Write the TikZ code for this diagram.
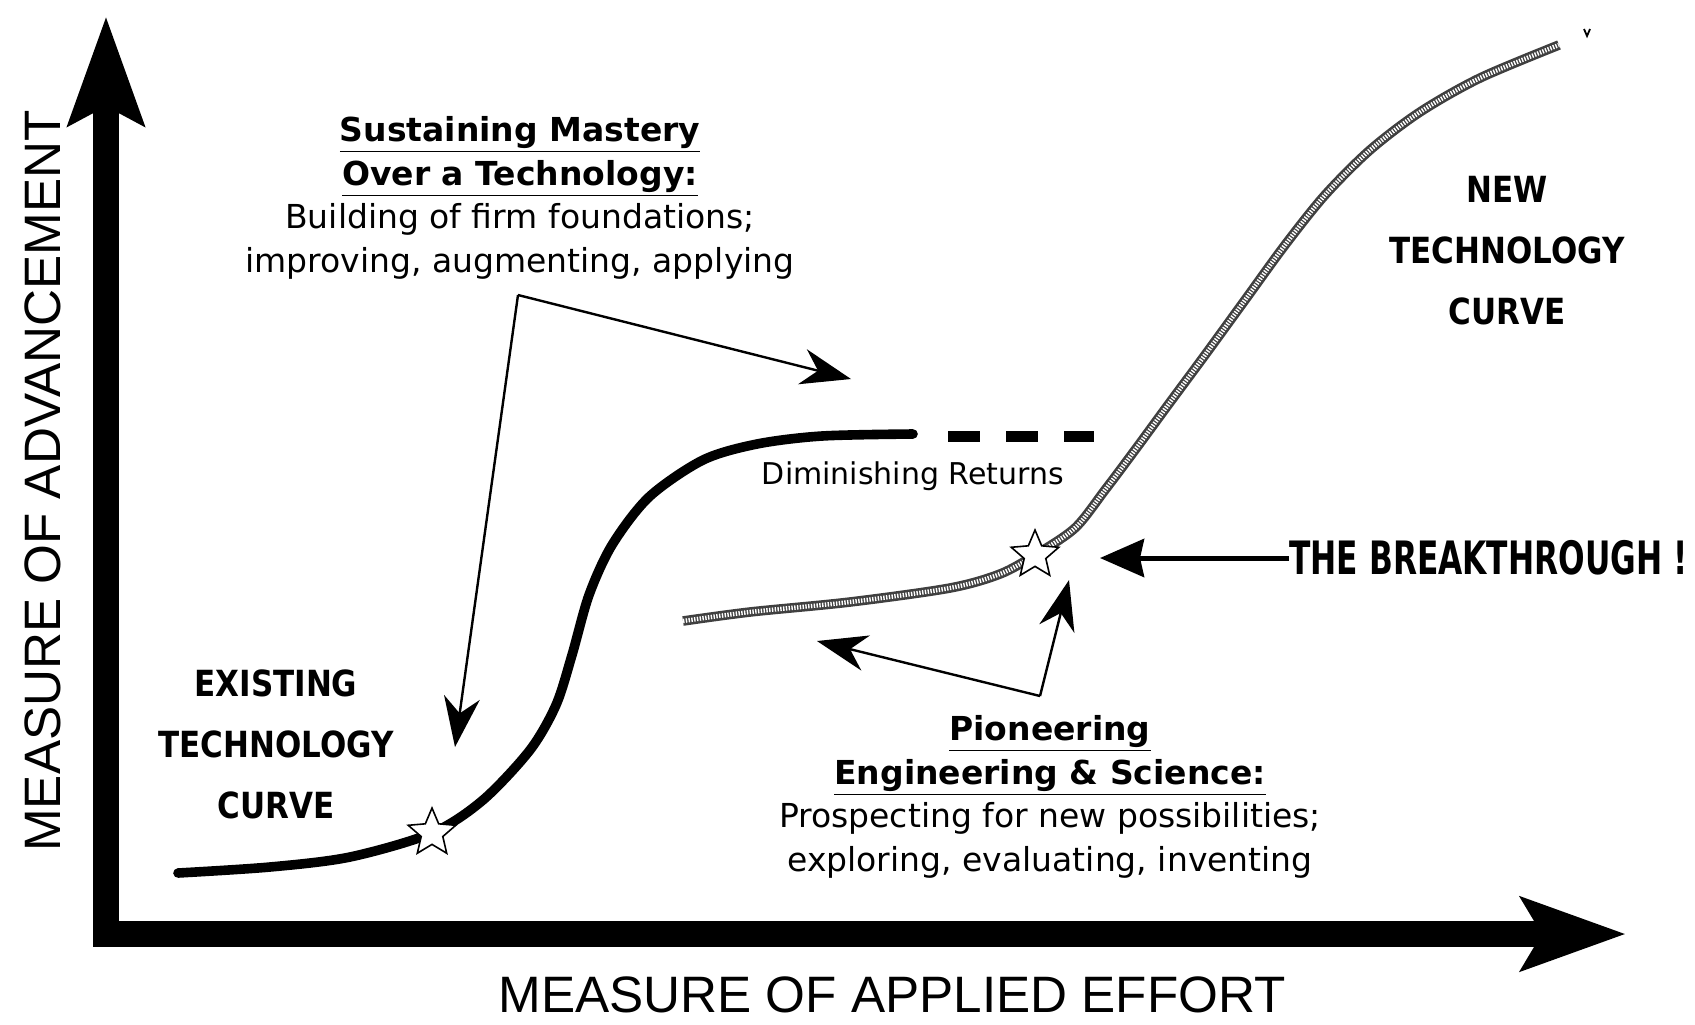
\documentclass[tikz,border=0pt]{standalone}
\usepackage{fontspec}
\setmainfont{DejaVu Sans}
\newfontfamily\axisfont{Liberation Sans}
\newfontfamily\capsfont{DejaVu Sans}[FakeStretch=0.86]
\newfontfamily\shoutfont{DejaVu Sans}[FakeStretch=0.68]
\usetikzlibrary{arrows.meta}
\usetikzlibrary{shapes.geometric}

\begin{document}
\begin{tikzpicture}[x=0.5pt,y=0.5pt,yscale=-1,xscale=1,
  axis/.style={line width=13pt,{Stealth[length=54pt,width=37pt,inset=9pt]}-{Stealth[length=52pt,width=36pt,inset=10pt]}},
  oldcurve/.style={line width=4.8pt,line cap=round},
  newcurve/.style={line width=4.8pt,draw=black!75,postaction={draw=white,line width=2.2pt,dash pattern=on 0.7pt off 0.7pt}},
  dashline/.style={line width=5.5pt,dash pattern=on 16pt off 13pt},
  pointer/.style={line width=1.2pt,-{Stealth[length=25pt,width=18pt,inset=8pt]}},
  bigpointer/.style={line width=2.5pt,-{Stealth[length=22pt,width=19pt,inset=2pt]}},
  starmark/.style={star,star points=5,star point ratio=2.2,minimum size=25pt,inner sep=0pt,draw,fill=white,line width=0.8pt},
  note/.style={align=center,inner sep=0pt,font=\fontsize{16.5}{21.75}\selectfont},
  caps/.style={align=center,inner sep=0pt,font=\capsfont\bfseries\fontsize{18}{30.5}\selectfont},
  axislabel/.style={inner sep=0pt,font=\axisfont\fontsize{25.6}{30}\selectfont}]
\path[use as bounding box] (0,0) rectangle (1695,1024);

%Axes
\draw[axis] (106,16) -- (106,934) -- (1626,934);

% Text Node
\node[axislabel,rotate=90] (ylab) at (43,481) {MEASURE OF ADVANCEMENT};
% Text Node
\node[axislabel] (xlab) at (892,995) {MEASURE OF APPLIED EFFORT};

%Existing technology curve
\draw[oldcurve] plot[smooth] coordinates {(178,873) (270,867) (350,857) (432,833) (483,800) (530,750) (556,705) (572,655) (589,595) (612,545) (649,497) (703,460) (757,444) (822,436) (913,434)};
\draw[dashline] (948,436) -- (1094,436);

%New technology curve
\draw[newcurve] plot[smooth] coordinates {(683,621) (750,612) (850,602) (950,588) (1000,574) (1035,555) (1075,528) (1105,490) (1135,450) (1168,405) (1205,355) (1245,300) (1285,245) (1325,195) (1370,150) (1420,112) (1480,78) (1559,45)};
\draw[line width=0.9pt] (1584,29) -- (1587,36) -- (1590,29);

%Stars
\node[starmark] (oldstar) at (432,833) {};
\node[starmark] (newstar) at (1035,555) {};

% Text Node
\node[caps] (existing) at (276,744) {EXISTING\\TECHNOLOGY\\CURVE};
% Text Node
\node[caps] (newtech) at (1507,251) {NEW\\TECHNOLOGY\\CURVE};
% Text Node
\node[note,font=\fontsize{15}{18}\selectfont] (dimret) at (913,476) {Diminishing Returns};

% Text Node
\node[note] (sustain) at (520,198) {\underline{\bfseries Sustaining Mastery}\\\underline{\bfseries Over a Technology:}\\Building of firm foundations;\\improving, augmenting, applying};
\coordinate (sv) at (518,295);
\coordinate (sdown) at (455,747);
\coordinate (sright) at (851,379);
\draw[pointer] (sv) -- (sdown);
\draw[pointer] (sv) -- (sright);

% Text Node
\node[note] (pioneer) at (1050,797) {\underline{\bfseries Pioneering}\\\underline{\bfseries Engineering \& Science:}\\Prospecting for new possibilities;\\exploring, evaluating, inventing};
\coordinate (pv) at (1040,696);
\coordinate (pup) at (1069,580);
\coordinate (pleft) at (817,641);
\draw[pointer] (pv) -- (pup);
\draw[pointer] (pv) -- (pleft);

% Text Node
\node[inner sep=0pt,anchor=west,font=\shoutfont\bfseries\fontsize{23}{26}\selectfont] (brk) at (1289,558) {THE BREAKTHROUGH !};
\coordinate (brktip) at (1100,558);
\draw[bigpointer] (brk.west) -- (brktip);

\end{tikzpicture}
\end{document}
